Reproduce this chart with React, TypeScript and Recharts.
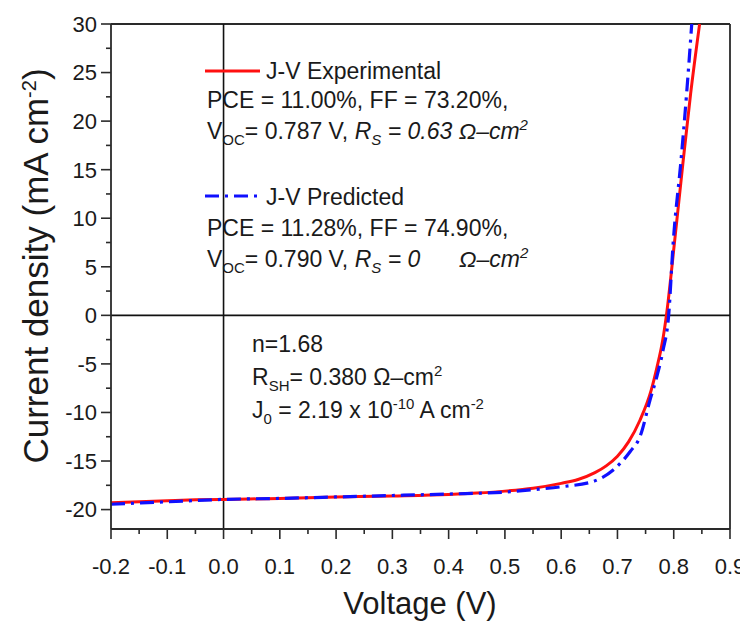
import React from "react";
import { LineChart, Line, XAxis, YAxis, ReferenceLine } from "recharts";

// ---- data ----
const expVoltage = [-0.2, -0.15, -0.1, -0.05, 0.0, 0.1, 0.2, 0.3, 0.4, 0.45, 0.5, 0.55, 0.6, 0.63, 0.66, 0.68, 0.7, 0.72, 0.74, 0.76, 0.77, 0.78, 0.787, 0.801, 0.816, 0.83, 0.846];
const expCurrent = [-19.3, -19.2, -19.1, -19.0, -18.95, -18.85, -18.7, -18.6, -18.45, -18.3, -18.1, -17.8, -17.3, -16.9, -16.2, -15.5, -14.5, -13.0, -10.8, -7.7, -5.4, -2.7, 0.0, 7.3, 15.5, 22.8, 30.0];

const predVoltage = [-0.2, -0.1, 0.0, 0.1, 0.2, 0.3, 0.4, 0.5, 0.56, 0.6, 0.657, 0.693, 0.723, 0.74, 0.758, 0.77, 0.781, 0.791, 0.799, 0.813, 0.823, 0.832];
const predCurrent = [-19.45, -19.2, -18.95, -18.85, -18.7, -18.55, -18.4, -18.2, -17.9, -17.65, -17.1, -15.9, -14.0, -12.5, -8.7, -6.3, -3.6, 0.0, 7.45, 16.0, 22.9, 30.0];

const xMajorTicks = [-0.2, -0.1, 0.0, 0.1, 0.2, 0.3, 0.4, 0.5, 0.6, 0.7, 0.8, 0.9];
const xMinorTicks = [-0.15, -0.05, 0.05, 0.15, 0.25, 0.35, 0.45, 0.55, 0.65, 0.75, 0.85];
const yMajorTicks = [-20, -15, -10, -5, 0, 5, 10, 15, 20, 25, 30];
const yMinorTicks = [-17.5, -12.5, -7.5, -2.5, 2.5, 7.5, 12.5, 17.5, 22.5, 27.5];

const expData = expVoltage.map((v, i) => ({ v, j: expCurrent[i] }));
const predData = predVoltage.map((v, i) => ({ v, j: predCurrent[i] }));

const FONT = "'Liberation Sans', Arial, sans-serif";
const INK = "#1a1a1a";
const AXIS = "#2a2a2a";
const DASH = "14 6 3 6";

const isIn = (arr: number[], v: number) => arr.some((a) => Math.abs(a - v) < 1e-6);

const XTick = (props: any) => {
  const { x, y, payload } = props;
  const major = isIn(xMajorTicks, payload.value);
  return (
    <g>
      <line x1={x} x2={x} y1={y} y2={y + (major ? 10 : 5)} stroke={AXIS} strokeWidth={1.6} />
      {major && (
        <text x={x} y={y + 45} textAnchor="middle" fontSize={22} fontFamily={FONT} fill={INK}>
          {Number(payload.value).toFixed(1)}
        </text>
      )}
    </g>
  );
};

const YTick = (props: any) => {
  const { x, y, payload } = props;
  const major = isIn(yMajorTicks, payload.value);
  return (
    <g>
      <line x1={x} x2={x - (major ? 10 : 5)} y1={y} y2={y} stroke={AXIS} strokeWidth={1.6} />
      {major && (
        <text x={x - 14} y={y} dy="0.36em" textAnchor="end" fontSize={22} fontFamily={FONT} fill={INK}>
          {payload.value}
        </text>
      )}
    </g>
  );
};

export default function App() {
  return (
    <div style={{ position: "relative", width: 748, height: 624, margin: "-8px 0 0 -8px", background: "#fff" }}>
      <LineChart width={748} height={624} margin={{ top: 24, right: 18, bottom: 0, left: 0 }}>
        <XAxis
          dataKey="v"
          type="number"
          domain={[-0.2, 0.9]}
          ticks={[...xMajorTicks, ...xMinorTicks].sort((a, b) => a - b)}
          interval={0}
          height={95}
          tickSize={0}
          tickMargin={0}
          tickLine={false}
          tick={<XTick />}
          axisLine={{ stroke: AXIS, strokeWidth: 1.8 }}
          allowDataOverflow
        />
        <YAxis
          type="number"
          domain={[-22, 30]}
          ticks={[...yMajorTicks, ...yMinorTicks].sort((a, b) => a - b)}
          interval={0}
          width={111}
          tickSize={0}
          tickMargin={0}
          tickLine={false}
          tick={<YTick />}
          axisLine={{ stroke: AXIS, strokeWidth: 1.8 }}
          allowDataOverflow
        />
        <ReferenceLine y={30} stroke={AXIS} strokeWidth={1.8} />
        <ReferenceLine x={0.9} stroke={AXIS} strokeWidth={1.8} />
        <ReferenceLine y={0} stroke="#111" strokeWidth={1.6} />
        <ReferenceLine x={0} stroke="#111" strokeWidth={1.6} />
        <Line
          data={expData}
          dataKey="j"
          type="monotone"
          stroke="#ff1010"
          strokeWidth={3}
          dot={false}
          isAnimationActive={false}
        />
        <Line
          data={predData}
          dataKey="j"
          type="monotone"
          stroke="#1010ff"
          strokeWidth={3.2}
          strokeDasharray={DASH}
          dot={false}
          isAnimationActive={false}
        />
      </LineChart>
      <svg
        width={748}
        height={624}
        style={{ position: "absolute", left: 0, top: 0, pointerEvents: "none" }}
        fontFamily={FONT}
        fill={INK}
      >
        {/* axis titles */}
        <text x={420} y={614} fontSize={31} textAnchor="middle">Voltage (V)</text>
        <text x={48} y={266} fontSize={35} textAnchor="middle" transform="rotate(-90 48 266)">
          Current density (mA  cm
          <tspan dy={-12} fontSize={20}>-2</tspan>
          <tspan dy={12}>)</tspan>
        </text>

        {/* legend block 1 */}
        <line x1={205} x2={260} y1={71} y2={71} stroke="#ff1010" strokeWidth={3} />
        <text x={266} y={79} fontSize={23}>J-V Experimental</text>
        <text x={207} y={108} fontSize={23}>PCE = 11.00%, FF = 73.20%,</text>
        <text x={207} y={139} fontSize={23}>
          V
          <tspan dy={6} fontSize={15}>OC</tspan>
          <tspan dy={-6}>= 0.787 V, </tspan>
          <tspan fontStyle="italic">R</tspan>
          <tspan dy={6} fontSize={15} fontStyle="italic">S</tspan>
          <tspan dy={-6} fontStyle="italic"> = 0.63 Ω–cm</tspan>
          <tspan dy={-9} fontSize={15} fontStyle="italic">2</tspan>
        </text>

        {/* legend block 2 */}
        <line x1={205} x2={260} y1={196} y2={196} stroke="#1010ff" strokeWidth={3.2} strokeDasharray={DASH} />
        <text x={266} y={205} fontSize={23}>J-V Predicted</text>
        <text x={207} y={236} fontSize={23}>PCE = 11.28%, FF = 74.90%,</text>
        <text x={207} y={267} fontSize={23}>
          V
          <tspan dy={6} fontSize={15}>OC</tspan>
          <tspan dy={-6}>= 0.790 V, </tspan>
          <tspan fontStyle="italic">R</tspan>
          <tspan dy={6} fontSize={15} fontStyle="italic">S</tspan>
          <tspan dy={-6} fontStyle="italic"> = 0</tspan>
        </text>
        <text x={459} y={267} fontSize={23} fontStyle="italic">
          Ω–cm
          <tspan dy={-9} fontSize={15}>2</tspan>
        </text>

        {/* parameters */}
        <text x={252} y={352} fontSize={23}>n=1.68</text>
        <text x={252} y={385} fontSize={23}>
          R
          <tspan dy={6} fontSize={15}>SH</tspan>
          <tspan dy={-6}>= 0.380 Ω–cm</tspan>
          <tspan dy={-9} fontSize={15}>2</tspan>
        </text>
        <text x={252} y={418} fontSize={23}>
          J
          <tspan dy={6} fontSize={15}>0</tspan>
          <tspan dy={-6}> = 2.19 x 10</tspan>
          <tspan dy={-9} fontSize={15}>-10</tspan>
          <tspan dy={9}> A cm</tspan>
          <tspan dy={-9} fontSize={15}>-2</tspan>
        </text>
      </svg>
    </div>
  );
}
